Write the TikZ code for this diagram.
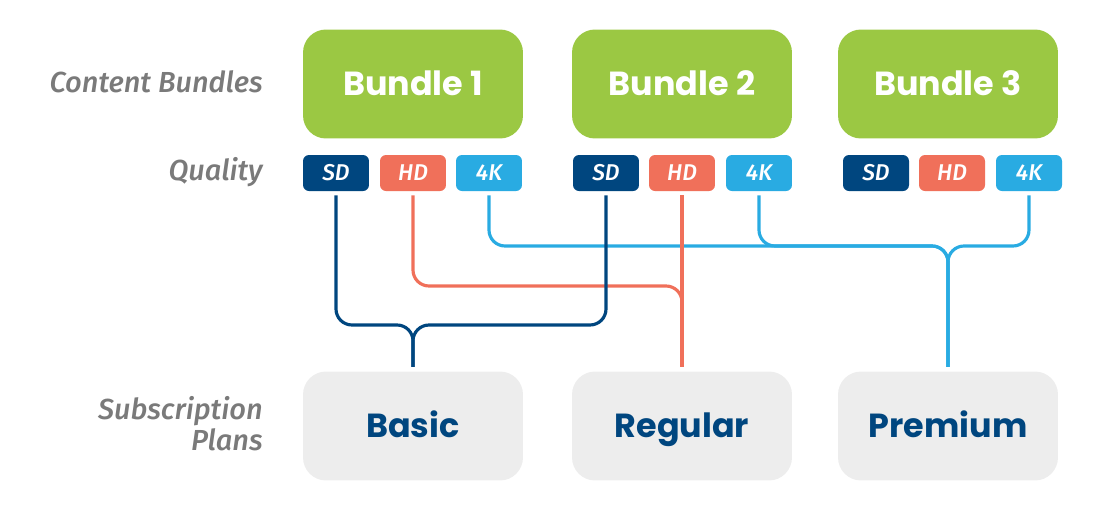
\documentclass[tikz,border=0pt]{standalone}
\usepackage{fontspec}
\setmainfont{Fira Sans}
\newfontfamily\roundfont{Poppins}
\newfontfamily\labelfont{Fira Sans Medium}
\definecolor{bundlegreen}{HTML}{9BC843}
\definecolor{sdblue}{HTML}{00467F}
\definecolor{hdred}{HTML}{F0705A}
\definecolor{uhdblue}{HTML}{29ABE2}
\definecolor{plangray}{HTML}{EDEDED}
\definecolor{labelgray}{HTML}{7A7A7A}
\tikzset{
  bundlebox/.style={fill=bundlegreen, rounded corners=0.46cm, minimum width=4.4cm, minimum height=2.18cm, text height=16pt, text depth=2.7pt, text=white, font=\roundfont\bfseries\fontsize{19}{22}\selectfont},
  planbox/.style={fill=plangray, rounded corners=0.46cm, minimum width=4.4cm, minimum height=2.18cm, text height=16pt, text depth=2.7pt, text=sdblue, font=\roundfont\bfseries\fontsize{19}{22}\selectfont},
  pill/.style={fill=#1, rounded corners=0.12cm, minimum width=1.32cm, minimum height=0.72cm, text=white, font=\labelfont\itshape\fontsize{13}{15}\selectfont, inner sep=0pt},
  rowlabel/.style={anchor=east, align=right, inner sep=0pt, text=labelgray, font=\labelfont\itshape\fontsize{16.5}{17.5}\selectfont},
  link/.style={draw=#1, line width=1.8pt, rounded corners=0.32cm}
}
\begin{document}
\begin{tikzpicture}[x=0.02cm,y=-0.02cm]
  \useasboundingbox (0,0) rectangle (1120,522);
  % row labels
  \node[rowlabel] (lbundles) at (263,82) {Content Bundles};
  \node[rowlabel] (lquality) at (263,172) {Quality};
  \node[rowlabel] (lplans) at (263,424) {Subscription\\Plans};
  % bundles
  \node[bundlebox] (bundle1) at (413,84) {Bundle 1};
  \node[bundlebox] (bundle2) at (682,84) {Bundle 2};
  \node[bundlebox] (bundle3) at (948,84) {Bundle 3};
  % quality
  \node[pill=sdblue] (sd1) at (336,173) {SD};
  \node[pill=hdred] (hd1) at (413,173) {HD};
  \node[pill=uhdblue] (uhd1) at (489,173) {4K};
  \node[pill=sdblue] (sd2) at (606,173) {SD};
  \node[pill=hdred] (hd2) at (682,173) {HD};
  \node[pill=uhdblue] (uhd2) at (759,173) {4K};
  \node[pill=sdblue] (sd3) at (876,173) {SD};
  \node[pill=hdred] (hd3) at (952,173) {HD};
  \node[pill=uhdblue] (uhd3) at (1029,173) {4K};
  % plans
  \node[planbox] (basic) at (413,426) {Basic};
  \node[planbox] (regular) at (682,426) {Regular};
  \node[planbox] (premium) at (948,426) {Premium};
  % connectors
  \draw[link=uhdblue] ([yshift=-2.3pt]uhd1.south) -- (uhd1.south |- 0,246) -- (premium.north |- 0,246) -- ([yshift=2.5pt]premium.north);
  \draw[link=uhdblue] ([yshift=-2.3pt]uhd2.south) -- (uhd2.south |- 0,246) -- (premium.north |- 0,246) -- ([yshift=2.5pt]premium.north);
  \draw[link=uhdblue] ([yshift=-2.3pt]uhd3.south) -- (uhd3.south |- 0,246) -- (premium.north |- 0,246) -- ([yshift=2.5pt]premium.north);
  \draw[link=hdred] ([yshift=-2.3pt]hd1.south) -- (hd1.south |- 0,286) -- (regular.north |- 0,286) -- ([yshift=2.5pt]regular.north);
  \draw[link=hdred] ([yshift=-2.3pt]hd2.south) -- ([yshift=2.5pt]regular.north);
  \draw[link=sdblue] ([yshift=-2.3pt]sd1.south) -- (sd1.south |- 0,325) -- (basic.north |- 0,325) -- ([yshift=2.5pt]basic.north);
  \draw[link=sdblue] ([yshift=-2.3pt]sd2.south) -- (sd2.south |- 0,325) -- (basic.north |- 0,325) -- ([yshift=2.5pt]basic.north);
\end{tikzpicture}
\end{document}
